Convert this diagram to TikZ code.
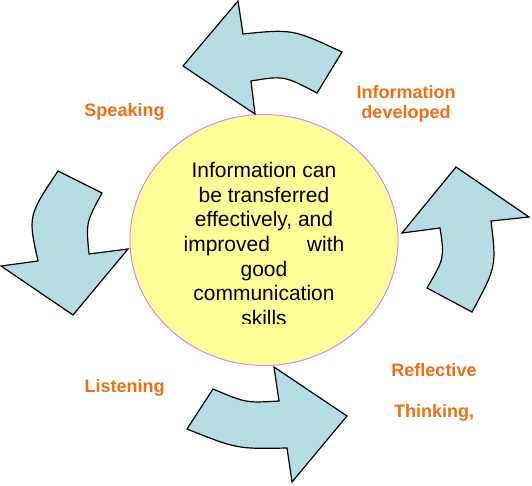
\documentclass[tikz,border=0pt]{standalone}
\usepackage{fontspec}
\setmainfont{Liberation Sans}
\usetikzlibrary{positioning}
\definecolor{arrowblue}{RGB}{183,221,228}
\definecolor{hubyellow}{RGB}{255,255,153}
\definecolor{hubrim}{RGB}{240,110,240}
\definecolor{labelorange}{RGB}{240,110,20}

\begin{document}
\begin{tikzpicture}[
  x=1pt,y=-1pt,
  turn/.style={draw=black,fill=arrowblue,line width=1.2pt,line join=miter},
  hub/.style={draw=hubrim,fill=hubyellow,line width=0.9pt},
  hubtext/.style={font=\fontsize{21}{24.6}\selectfont,align=center,inner sep=0pt},
  stage/.style={font=\fontsize{18}{20.5}\selectfont\bfseries,text=labelorange,
                align=center,inner sep=0pt}
]
\useasboundingbox (0,0) rectangle (532,486);

% centre
\draw[hub] (264,240) ellipse [x radius=134,y radius=125.5];
\begin{scope}
  \clip (140,140) rectangle (390,323);
  \node[hubtext] (core) at (264,244)
    {Information can\\be transferred\\effectively, and\\
     improved\hspace{37pt}with\\good\\communication\\skills};
\end{scope}

% turning arrows
\draw[turn] (183,66) -- (238,1) -- (243,34) .. controls (292.5,29) .. (342,52)
  -- (317,93) .. controls (284,75.6) .. (251,81) -- (255,114) -- cycle;
\draw[turn] (38,261) .. controls (28,216) .. (58,171) -- (102,193)
  .. controls (86,222.5) .. (89,254) -- (128,249) -- (73,315) -- (1,266) -- cycle;
\draw[turn] (213,389) .. controls (246,403) .. (279,401) -- (274,367) -- (347,416)
  -- (292,482) -- (287,448) .. controls (237,449) .. (187,429) -- cycle;
\draw[turn] (456,167) -- (529,217) -- (491,221) .. controls (496.5,266.5) .. (472,312)
  -- (427,288) .. controls (444.5,258) .. (440,228) -- (402,233) -- cycle;

% stage labels
\node[stage] (speak)   at (124.5,112) {Speaking};
\node[stage] (develop) at (406,104)   {Information\\developed};
\node[stage] (listen)  at (124.5,388) {Listening};
\node[stage] (reflect) at (434,392)   {Reflective\\[20.5pt]Thinking,};
\end{tikzpicture}
\end{document}
